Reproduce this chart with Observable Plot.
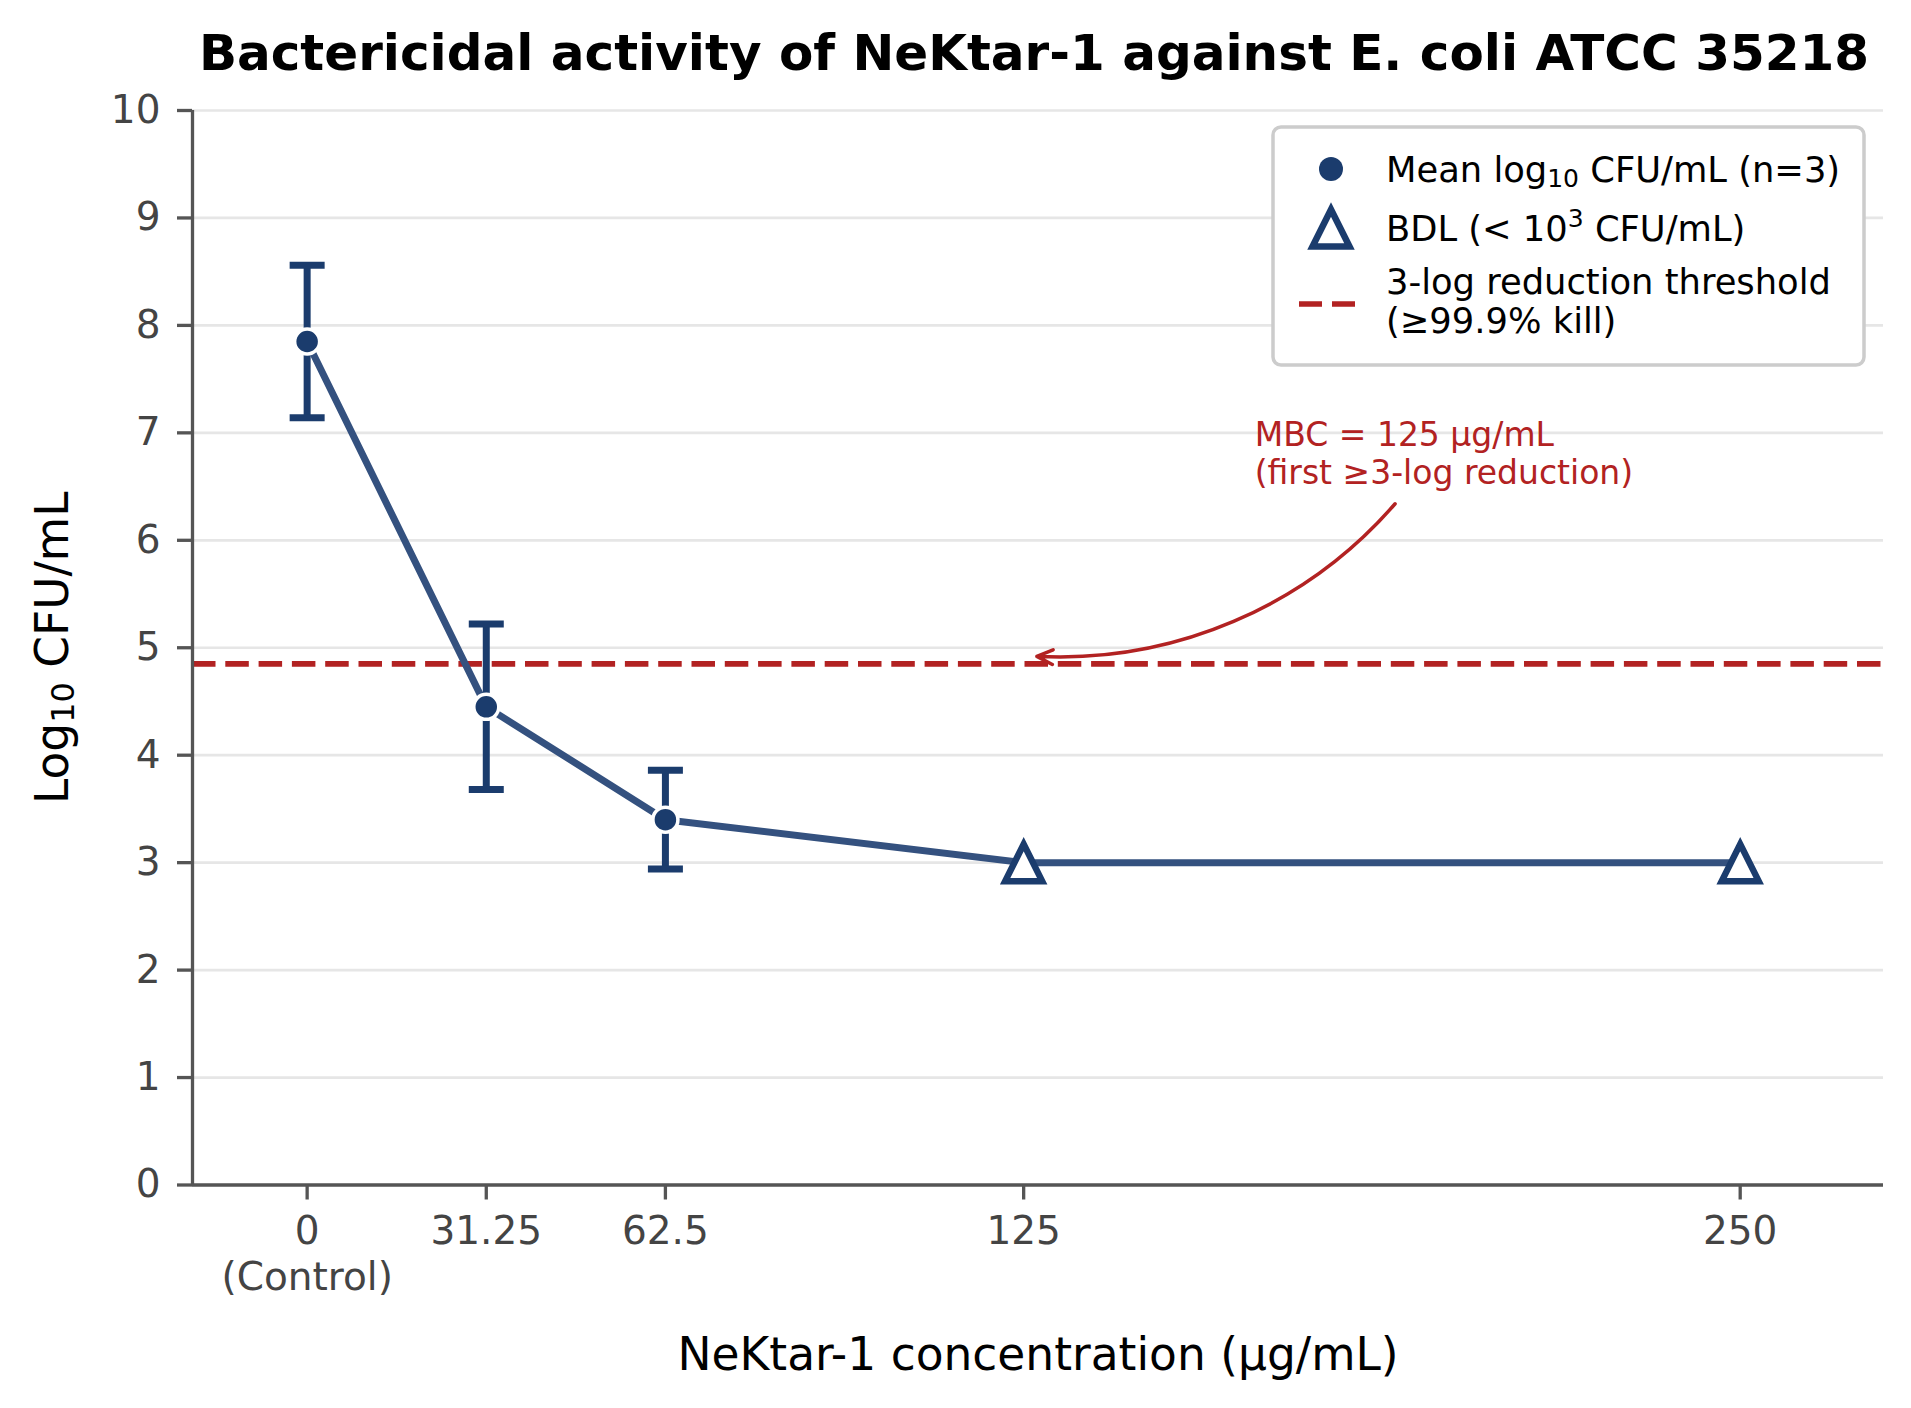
<!DOCTYPE html>
<html><head><meta charset="utf-8">
<script src="https://cdn.jsdelivr.net/npm/d3@7"></script>
<script src="https://cdn.jsdelivr.net/npm/@observablehq/plot@0.6"></script>
<style>html,body{margin:0;padding:0;background:#fff;overflow:hidden}</style>
</head><body><div id="chart"></div>
<script>
// ---- data ----
const concentrations = [0, 31.25, 62.5, 125, 250];
const xTickLabels = ["0\n(Control)", "31.25", "62.5", "125", "250"];
const meanLog = [7.85, 4.45, 3.40, 3.00, 3.00];
const sdLog = [0.71, 0.77, 0.46, null, null];
const belowDetection = [false, false, false, true, true];
const thresholdLog = [4.85];
const yTicks = [0, 1, 2, 3, 4, 5, 6, 7, 8, 9, 10];
const xDomain = [-20, 275];
const yDomain = [0, 10];
const titleText = ["Bactericidal activity of NeKtar-1 against E. coli ATCC 35218"];
const xLabelText = ["NeKtar-1 concentration (µg/mL)"];
const yLabelParts = ["Log", "10", " CFU/mL"];
const legendLabels = [["Mean log", "10", " CFU/mL (n=3)"], ["BDL (< 10", "3", " CFU/mL)"], ["3-log reduction threshold", "(≥99.9% kill)"]];
const annotationText = ["MBC = 125 µg/mL\n(first ≥3-log reduction)"];
const annotationAnchor = [{x: 165.3, y: 6.52}];
const annotationArrow = [{x1: 189.8, y1: 6.34, x2: 127.3, y2: 4.92}];

// ---- styles ----
const navy = "#1b3c6d";
const lineColor = "#34517f";
const red = "#b22222";
const font = "DejaVu Sans";

const points = concentrations.map((c, i) => ({c, m: meanLog[i], sd: sdLog[i], bdl: belowDetection[i]}));
const measured = points.filter(d => !d.bdl);
const below = points.filter(d => d.bdl);
const caps = measured.flatMap(d => [{c: d.c, v: d.m + d.sd}, {c: d.c, v: d.m - d.sd}]);

const capSymbol = {draw(ctx, size) { const r = Math.sqrt(size / Math.PI); ctx.moveTo(-r, 0); ctx.lineTo(r, 0); }};
const triSymbol = {draw(ctx, size) { const r = Math.sqrt(size / Math.PI); ctx.moveTo(0, -r); ctx.lineTo(r, r); ctx.lineTo(-r, r); ctx.closePath(); }};

const yLabelString = yLabelParts.join("");

const chart = Plot.plot({
  width: 1911, height: 1408,
  marginLeft: 192, marginRight: 28, marginTop: 110, marginBottom: 223.5,
  style: {fontFamily: font, background: "white", overflow: "visible"},
  x: {type: "linear", domain: xDomain},
  y: {type: "linear", domain: yDomain},
  marks: [
    Plot.gridY(yTicks, {stroke: "#e6e6e6", strokeOpacity: 1, strokeWidth: 2.7}),
    Plot.ruleY(thresholdLog, {stroke: red, strokeWidth: 5.7, strokeDasharray: "23.5,9.8"}),
    Plot.line(points, {x: "c", y: "m", stroke: lineColor, strokeWidth: 7, strokeLinejoin: "round"}),
    Plot.ruleX(measured, {x: "c", y1: d => d.m - d.sd, y2: d => d.m + d.sd, stroke: navy, strokeWidth: 7}),
    Plot.dot(caps, {x: "c", y: "v", symbol: capSymbol, r: 17.5, fill: "none", stroke: navy, strokeWidth: 7}),
    Plot.dot(measured, {x: "c", y: "m", r: 12.5, fill: navy, stroke: "white", strokeWidth: 3.5}),
    Plot.dot(below, {x: "c", y: "m", symbol: triSymbol, r: 18.5, fill: "white", stroke: navy, strokeWidth: 6.5}),
    Plot.ruleX([xDomain[0]], {stroke: "#555", strokeWidth: 3.3}),
    Plot.ruleY([yDomain[0]], {stroke: "#555", strokeWidth: 3.3}),
    Plot.axisY(yTicks, {label: null, tickSize: 15, tickPadding: 17, fontSize: 39, fill: "#444", stroke: "#555", strokeWidth: 3.3, tickFormat: d => String(d)}),
    Plot.axisX(concentrations, {label: null, tickSize: 15, tickPadding: 11.8, fontSize: 39, lineHeight: 1.18, fill: "#444", stroke: "#555", strokeWidth: 3.3,
      tickFormat: (d) => xTickLabels[concentrations.indexOf(d)]}),
    Plot.arrow(annotationArrow, {x1: "x1", y1: "y1", x2: "x2", y2: "y2", bend: 26, stroke: red, strokeWidth: 3.5, headLength: 7.5, headAngle: 50}),
    Plot.text(annotationAnchor, {x: "x", y: "y", text: () => annotationText[0], textAnchor: "start", lineAnchor: "bottom", lineHeight: 1.15, fontSize: 33, fill: red}),
    Plot.text(titleText, {frameAnchor: "top", text: d => d, textAnchor: "middle", lineAnchor: "bottom", dx: -4, dy: -41, fontSize: 50, fontWeight: "bold", fill: "black"}),
    Plot.text(xLabelText, {frameAnchor: "bottom", text: d => d, textAnchor: "middle", lineAnchor: "bottom", dy: 184.5, fontSize: 45.5, fill: "black"}),
    Plot.text([yLabelString], {frameAnchor: "left", text: d => d, textAnchor: "middle", lineAnchor: "bottom", rotate: -90, dx: -125, fontSize: 45.5, fill: "black"})
  ]
});
document.getElementById("chart").appendChild(chart);

const svg = d3.select(chart);

// y label with a real subscript
svg.selectAll("text").filter(function() { return this.textContent === yLabelString; }).each(function() {
  const t = d3.select(this);
  t.text(null);
  t.append("tspan").text(yLabelParts[0]);
  t.append("tspan").attr("font-size", "0.7em").attr("dy", "0.2em").text(yLabelParts[1]);
  t.append("tspan").attr("dy", "-0.14em").text(yLabelParts[2]);
});

// ---- legend ----
const lfs = 35.3;
const lg = svg.append("g").attr("font-family", font).attr("fill", "black").attr("text-anchor", "start");
lg.append("rect").attr("x", 1273).attr("y", 127).attr("width", 591).attr("height", 238).attr("rx", 8)
  .attr("fill", "white").attr("stroke", "#cccccc").attr("stroke-width", 3.5);
lg.append("circle").attr("cx", 1331).attr("cy", 169).attr("r", 12).attr("fill", navy);
const tp = d3.path(); triSymbol.draw(tp, Math.PI * 18.5 * 18.5);
lg.append("path").attr("d", tp.toString()).attr("transform", "translate(1331,228)")
  .attr("fill", "white").attr("stroke", navy).attr("stroke-width", 6.5);
lg.append("line").attr("x1", 1299).attr("x2", 1355).attr("y1", 304).attr("y2", 304)
  .attr("stroke", red).attr("stroke-width", 5.7).attr("stroke-dasharray", "23,10");
const t1 = lg.append("text").attr("x", 1386).attr("y", 182).attr("font-size", lfs);
t1.append("tspan").text(legendLabels[0][0]);
t1.append("tspan").attr("font-size", 25).attr("dy", 5).text(legendLabels[0][1]);
t1.append("tspan").attr("dy", -5).text(legendLabels[0][2]);
const t2 = lg.append("text").attr("x", 1386).attr("y", 241).attr("font-size", lfs);
t2.append("tspan").text(legendLabels[1][0]);
t2.append("tspan").attr("font-size", 25).attr("dy", -14).text(legendLabels[1][1]);
t2.append("tspan").attr("dy", 14).text(legendLabels[1][2]);
lg.append("text").attr("x", 1386).attr("y", 294).attr("font-size", lfs).text(legendLabels[2][0]);
lg.append("text").attr("x", 1386).attr("y", 333).attr("font-size", lfs).text(legendLabels[2][1]);
</script></body></html>
